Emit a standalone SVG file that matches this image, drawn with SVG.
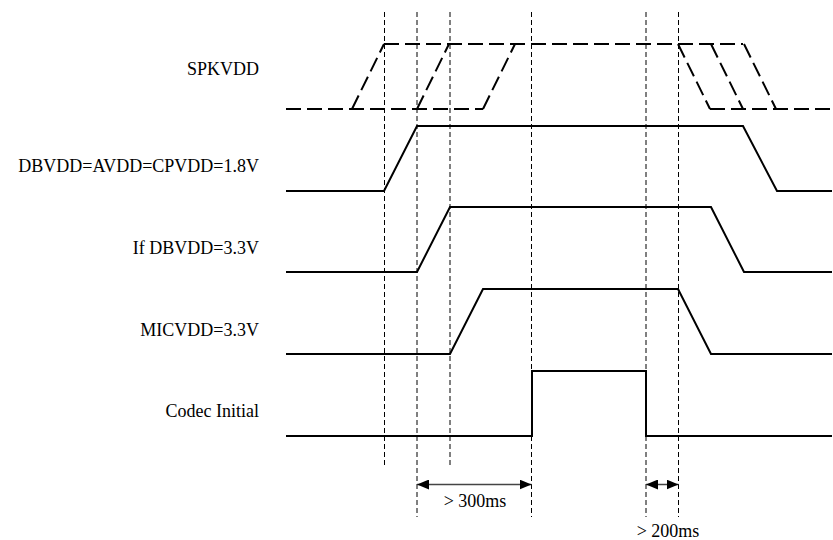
<svg xmlns="http://www.w3.org/2000/svg" width="833" height="540" viewBox="0 0 833 540">
<style>
  .lbl { font-family: "Liberation Serif", "Times New Roman", serif; font-size: 18px; fill: #000; }
  .sig { fill: none; stroke: #000; stroke-width: 2; }
  .dsig { fill: none; stroke: #000; stroke-width: 2; stroke-dasharray: 15 6; }
  .guide { fill: none; stroke: #000; stroke-width: 1; stroke-dasharray: 5 3; }
  .dim { fill: none; stroke: #444; stroke-width: 1.5; }
</style>
<defs>
  <marker id="ah" viewBox="0 0 12 10" refX="12" refY="5" markerWidth="12" markerHeight="10" markerUnits="userSpaceOnUse" orient="auto-start-reverse">
    <path d="M0,0 L12,5 L0,10 Z" fill="#000"/>
  </marker>
</defs>
<rect width="833" height="540" fill="#fff"/>

<g id="guides">
  <line class="guide" x1="384.5" y1="12" x2="384.5" y2="468"/>
  <line class="guide" x1="417" y1="12" x2="417" y2="517"/>
  <line class="guide" x1="450" y1="12" x2="450" y2="468"/>
  <line class="guide" x1="531.5" y1="12" x2="531.5" y2="517"/>
  <line class="guide" x1="646" y1="12" x2="646" y2="517"/>
  <line class="guide" x1="678.5" y1="12" x2="678.5" y2="517"/>
</g>

<g id="spkvdd">
  <text class="lbl" x="259" y="75" text-anchor="end">SPKVDD</text>
  <path class="dsig" d="M286,109 H483"/>
  <path class="dsig" d="M352,109 L384,44"/>
  <path class="dsig" d="M417,109 L449,44"/>
  <path class="dsig" d="M483,109 L515,44"/>
  <path class="dsig" d="M384,44 H743"/>
  <path class="dsig" d="M678,44 L710,109"/>
  <path class="dsig" d="M711,44 L743,109"/>
  <path class="dsig" d="M744,44 L776,109"/>
  <path class="dsig" d="M710,109 H831"/>
</g>

<g id="dbvdd18">
  <text class="lbl" x="259" y="172" text-anchor="end">DBVDD=AVDD=CPVDD=1.8V</text>
  <path class="sig" d="M286,191 H384 L417,126 H743 L777,191 H832"/>
</g>

<g id="dbvdd33">
  <text class="lbl" x="259" y="254" text-anchor="end">If DBVDD=3.3V</text>
  <path class="sig" d="M286,272 H417 L450,207 H711 L744,272 H832"/>
</g>

<g id="micvdd">
  <text class="lbl" x="259" y="336" text-anchor="end">MICVDD=3.3V</text>
  <path class="sig" d="M286,354 H450 L483,289 H678 L711,354 H832"/>
</g>

<g id="codec">
  <text class="lbl" x="259" y="417" text-anchor="end">Codec Initial</text>
  <path class="sig" d="M286,436 H532 V371 H646 V436 H832"/>
</g>

<g id="connectors">
  <line class="dim" x1="417" y1="484.5" x2="531.5" y2="484.5" marker-start="url(#ah)" marker-end="url(#ah)"/>
  <line class="dim" x1="646" y1="484.5" x2="678.5" y2="484.5" marker-start="url(#ah)" marker-end="url(#ah)"/>
</g>

<g id="labels">
  <text class="lbl" x="475" y="507" text-anchor="middle">&gt; 300ms</text>
  <text class="lbl" x="668" y="537" text-anchor="middle">&gt; 200ms</text>
</g>
</svg>
